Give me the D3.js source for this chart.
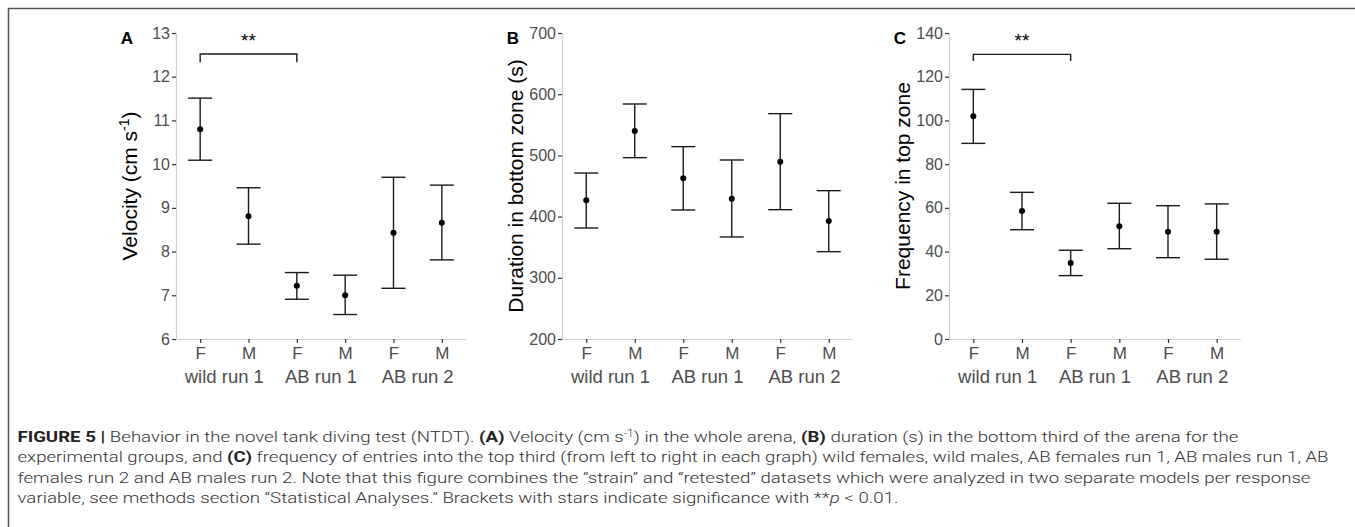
<!DOCTYPE html>
<html>
<head>
<meta charset="utf-8">
<style>
  body { margin: 0; background: #fff; }
  svg text { font-family: "Liberation Sans", Arial, sans-serif; }
</style>
</head>
<body>
<script src="https://d3js.org/d3.v7.min.js"></script>
<script>
  // groups along the x axis
  var sexes = ['F', 'M', 'F', 'M', 'F', 'M'];
  var runs = ['wild run 1', 'AB run 1', 'AB run 2'];

  // (A) velocity
  var velMean = [10.8, 8.81, 7.22, 7.0, 8.43, 8.66];
  var velLow = [10.09, 8.17, 6.91, 6.56, 7.16, 7.81];
  var velHigh = [11.51, 9.46, 7.52, 7.46, 9.70, 9.52];
  var velTicks = [6, 7, 8, 9, 10, 11, 12, 13];

  // (B) duration in bottom zone
  var durMean = [426.6, 539.9, 462.5, 429.3, 489.8, 392.8];
  var durLow = [381.4, 496.3, 410.8, 366.7, 411.3, 342.7];
  var durHigh = [471.2, 584, 514.3, 492.5, 568.2, 442.4];
  var durTicks = [200, 300, 400, 500, 600, 700];

  // (C) frequency in top zone
  var freqMean = [101.9, 58.6, 34.8, 51.6, 49.1, 49.1];
  var freqLow = [89.5, 50, 29, 41.3, 37.2, 36.5];
  var freqHigh = [114.2, 67.1, 40.6, 62.1, 61, 61.8];
  var freqTicks = [0, 20, 40, 60, 80, 100, 120, 140];

  // significance brackets: [from, to, bar level, end level]
  var velBracket = [0, 2, 12.52, 12.33];
  var freqBracket = [0, 2, 130.2, 127.2];

  var W = 1355, H = 527, yTop = 33, yBottom = 339;

  var svg = d3.select('body').append('svg')
    .attr('width', W).attr('height', H);

  // frame of the figure box
  svg.append('path')
    .attr('d', 'M8.5,' + H + 'V8.5H' + W)
    .attr('fill', 'none').attr('stroke', '#555').attr('stroke-width', 1.5);

  var panels = [
    { letter: 'A', x0: 176, x1: 466, mean: velMean, low: velLow, high: velHigh, ticks: velTicks, bracket: velBracket },
    { letter: 'B', x0: 562, x1: 853, mean: durMean, low: durLow, high: durHigh, ticks: durTicks, bracket: null },
    { letter: 'C', x0: 949, x1: 1241, mean: freqMean, low: freqLow, high: freqHigh, ticks: freqTicks, bracket: freqBracket }
  ];
  var titles = [
    function (t) { t.text('Velocity (cm s'); t.append('tspan').attr('baseline-shift', 'super').attr('font-size', 14).text('-1'); t.append('tspan').text(')'); },
    function (t) { t.text('Duration in bottom zone (s)'); },
    function (t) { t.text('Frequency in top zone'); }
  ];

  panels.forEach(function (p, k) {
    var x = d3.scalePoint().domain(d3.range(sexes.length)).range([p.x0, p.x1]).padding(0.5);
    var y = d3.scaleLinear().domain(d3.extent(p.ticks)).range([yBottom, yTop]);
    var g = svg.append('g');

    // y axis
    var ya = g.append('g').attr('transform', 'translate(' + p.x0 + ',0)')
      .call(d3.axisLeft(y).tickValues(p.ticks).tickFormat(function (d) { return d; })
        .tickSize(4).tickSizeOuter(0).tickPadding(2));
    // x axis
    var xa = g.append('g').attr('transform', 'translate(0,' + yBottom + ')')
      .call(d3.axisBottom(x).tickFormat(function (i) { return sexes[i]; }).tickSize(4).tickSizeOuter(0).tickPadding(4));
    [ya, xa].forEach(function (a) {
      a.select('.domain').attr('stroke', '#cfcfcf').attr('stroke-width', 1.2);
      a.selectAll('.tick line').attr('stroke', '#333').attr('stroke-width', 1.2);
      a.selectAll('.tick text').attr('fill', '#4d4d4d').style('font-family', '"Liberation Sans", Arial, sans-serif');
    });
    ya.selectAll('.tick text').attr('font-size', 16);
    xa.selectAll('.tick text').attr('font-size', 17).attr('dy', '0.68em');
    ya.select('.domain').attr('d', 'M0.5,' + yTop + 'V' + yBottom);
    xa.select('.domain').attr('d', 'M' + p.x0 + ',0.5H' + p.x1);

    // run labels under each F/M pair
    g.selectAll('text.run').data(runs).enter().append('text')
      .attr('class', 'run')
      .attr('x', function (d, i) { return (x(2 * i) + x(2 * i + 1)) / 2; })
      .attr('y', 383)
      .attr('text-anchor', 'middle').attr('font-size', 18.5).attr('fill', '#4d4d4d')
      .text(function (d) { return d; });

    // axis title
    var t = g.append('text')
      .attr('transform', 'translate(' + (p.x0 - 39) + ',' + ((yTop + yBottom) / 2) + ') rotate(-90)')
      .attr('text-anchor', 'middle').attr('font-size', 21).attr('fill', '#000');
    titles[k](t);

    // panel letter
    g.append('text').attr('x', p.x0 - 49).attr('y', 44)
      .attr('text-anchor', 'middle').attr('font-size', 17).attr('font-weight', 'bold')
      .text(p.letter);

    // error bars
    var bars = g.selectAll('g.bar').data(d3.range(sexes.length)).enter().append('g').attr('class', 'bar');
    bars.append('line')
      .attr('x1', function (i) { return x(i); }).attr('x2', function (i) { return x(i); })
      .attr('y1', function (i) { return y(p.low[i]); }).attr('y2', function (i) { return y(p.high[i]); });
    bars.append('line')
      .attr('x1', function (i) { return x(i) - 12; }).attr('x2', function (i) { return x(i) + 12; })
      .attr('y1', function (i) { return y(p.low[i]); }).attr('y2', function (i) { return y(p.low[i]); });
    bars.append('line')
      .attr('x1', function (i) { return x(i) - 12; }).attr('x2', function (i) { return x(i) + 12; })
      .attr('y1', function (i) { return y(p.high[i]); }).attr('y2', function (i) { return y(p.high[i]); });
    bars.selectAll('line').attr('stroke', '#1a1a1a').attr('stroke-width', 1.4);
    bars.append('circle')
      .attr('cx', function (i) { return x(i); }).attr('cy', function (i) { return y(p.mean[i]); })
      .attr('r', 3).attr('fill', '#000');

    // bracket with stars
    if (p.bracket) {
      var b = p.bracket;
      g.append('path')
        .attr('d', 'M' + x(b[0]) + ',' + y(b[3]) + 'V' + y(b[2]) + 'H' + x(b[1]) + 'V' + y(b[3]))
        .attr('fill', 'none').attr('stroke', '#1a1a1a').attr('stroke-width', 1.4);
      g.append('text')
        .attr('x', (x(b[0]) + x(b[1])) / 2).attr('y', 47)
        .attr('text-anchor', 'middle').attr('font-size', 19).text('**');
    }
  });

  // caption
  var capLines = [
    [['FIGURE 5 | ', 'b'], ['Behavior in the novel tank diving test (NTDT). '], ['(A)', 'b'], [' Velocity (cm s'], ['-1', 's'], [') in the whole arena, '], ['(B)', 'b'], [' duration (s) in the bottom third of the arena for the']],
    [['experimental groups, and '], ['(C)', 'b'], [' frequency of entries into the top third (from left to right in each graph) wild females, wild males, AB females run 1, AB males run 1, AB']],
    [['females run 2 and AB males run 2. Note that this figure combines the \u201cstrain\u201d and \u201cretested\u201d datasets which were analyzed in two separate models per response']],
    [['variable, see methods section \u201cStatistical Analyses.\u201d Brackets with stars indicate significance with **'], ['p', 'i'], [' < 0.01.']]
  ];
  var capWidths = [1221, 1311, 1293, 881];

  capLines.forEach(function (line, i) {
    var t = svg.append('text')
      .attr('x', 17.5).attr('y', 442 + i * 20.3)
      .attr('font-size', 15.5).attr('fill', '#333')
      .style('font-family', 'Roboto, sans-serif').attr('font-weight', 300)
      .attr('textLength', capWidths[i]).attr('lengthAdjust', 'spacingAndGlyphs');
    line.forEach(function (seg) {
      var s = t.append('tspan').text(seg[0]);
      if (seg[1] === 'b') s.attr('font-weight', 700).attr('fill', '#222');
      if (seg[1] === 'i') s.attr('font-style', 'italic');
      if (seg[1] === 's') s.attr('baseline-shift', 'super').attr('font-size', 10);
    });
  });
</script>
</body>
</html>
